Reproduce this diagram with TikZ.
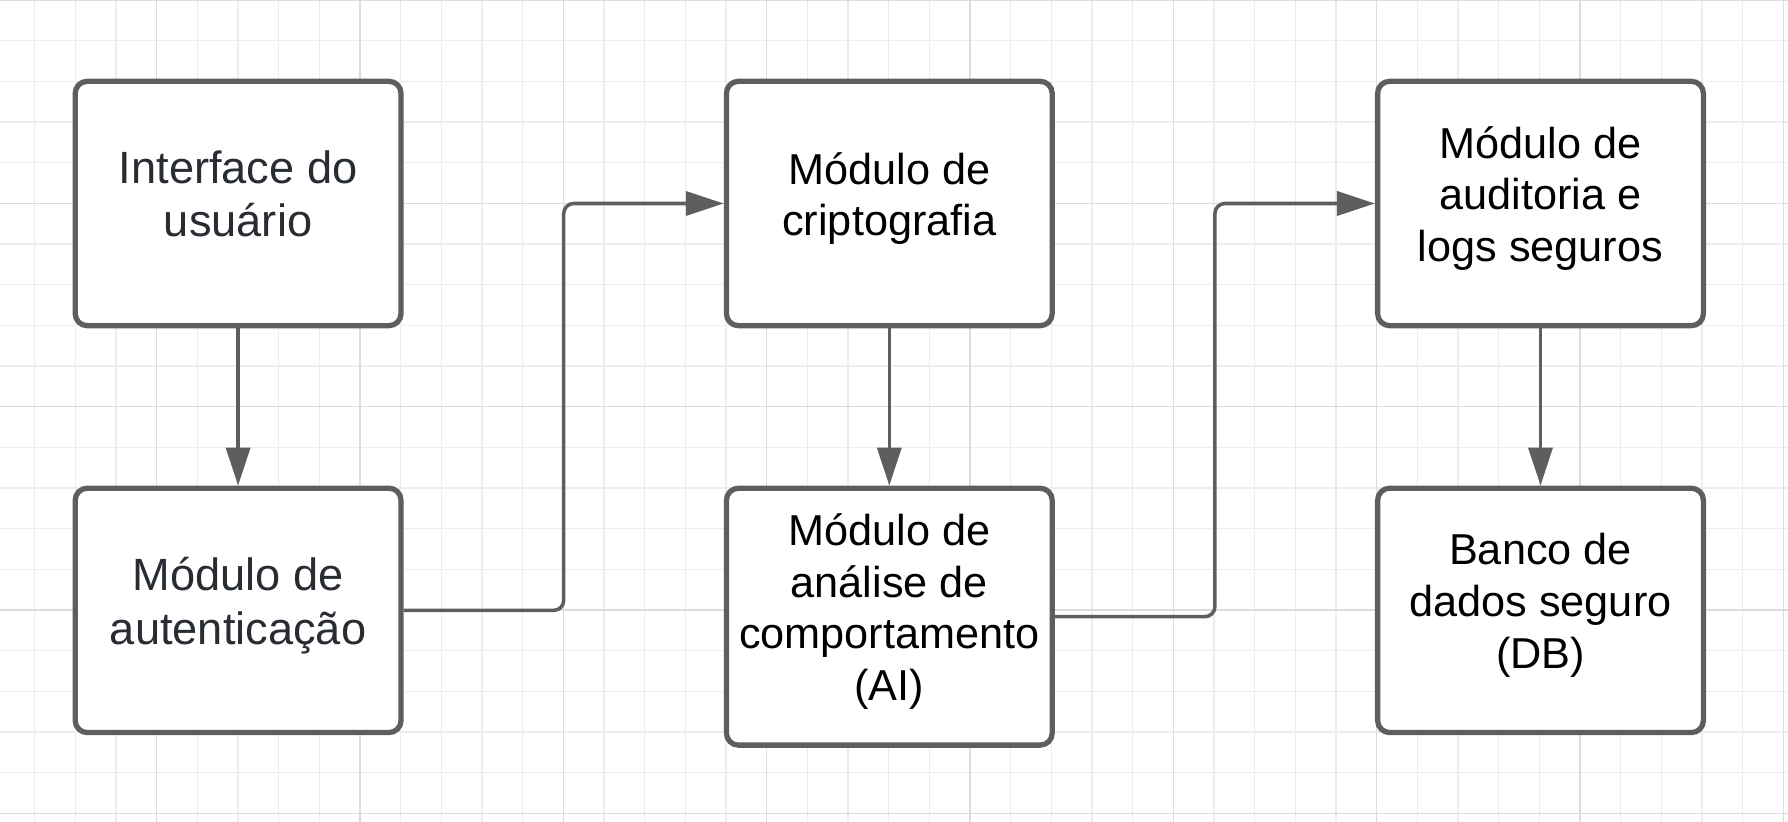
\documentclass[tikz,border=0pt]{standalone}
\usepackage{fontspec}
\setmainfont{Liberation Sans}
\usetikzlibrary{arrows.meta}
\definecolor{edge}{HTML}{5E5E5E}
\definecolor{slate}{HTML}{282C33}
\definecolor{minorgrid}{HTML}{EDEDED}
\definecolor{majorgrid}{HTML}{DCDCDC}
\tikzset{
  module/.style={draw=edge, line width=1.5pt, rounded corners=0.12cm, fill=white,
    minimum width=3.256cm, minimum height=2.442cm, inner sep=0pt, align=center,
    font=\fontsize{12.3}{14.7}\selectfont,
    execute at begin node={\rule{0pt}{10.5pt}},
    execute at end node={\rule[-5.4pt]{0pt}{5.4pt}}},
  front/.style={text=slate, font=\fontsize{12.85}{15.1}\selectfont},
  link/.style={draw=edge, line width=1pt, rounded corners=0.1cm,
    -{Triangle[length=0.38cm,width=0.24cm]}},
  minorline/.style={draw=minorgrid, line width=0.4pt},
  majorline/.style={draw=majorgrid, line width=0.4pt}
}
\begin{document}
\begin{tikzpicture}[x=0.01cm,y=-0.01cm]
\useasboundingbox (0,0) rectangle (1788,822);
% background grid
\foreach \i in {0,...,43} \draw[minorline] ({34.6+40.67*\i},0) -- ({34.6+40.67*\i},822);
\foreach \j in {0,...,20} \draw[minorline] (0,{40.67*\j}) -- (1788,{40.67*\j});
\foreach \i in {0,...,8} \draw[majorline] ({156.6+203.35*\i},0) -- ({156.6+203.35*\i},822);
\foreach \j in {0,...,4} \draw[majorline] (0,{203.35*\j}) -- (1788,{203.35*\j});
% modules
\node[module,front] (ui) at (238.1,203.5) {Interface do\\usuário};
\node[module,front] (auth) at (238.1,610.4) {Módulo de\\autenticação};
\node[module] (crypto) at (889.3,203.5) {Módulo de\\criptografia};
\node[module,minimum height=2.567cm] (behav) at (889.3,616.7) {Módulo de\\análise de\\comportamento\\(AI)};
\node[module] (audit) at (1540.5,203.5) {Módulo de\\auditoria e\\logs seguros};
\node[module] (db) at (1540.5,610.4) {Banco de\\dados seguro\\(DB)};
% bends
\coordinate (bend1) at (563.7,203.5);
\coordinate (bend2) at (1214.9,203.5);
% links
\draw[link] (ui) -- (auth);
\draw[link] (auth.east) -| (bend1) -- (crypto.west);
\draw[link] (crypto) -- (behav);
\draw[link] (behav.east) -| (bend2) -- (audit.west);
\draw[link] (audit) -- (db);
\end{tikzpicture}
\end{document}
